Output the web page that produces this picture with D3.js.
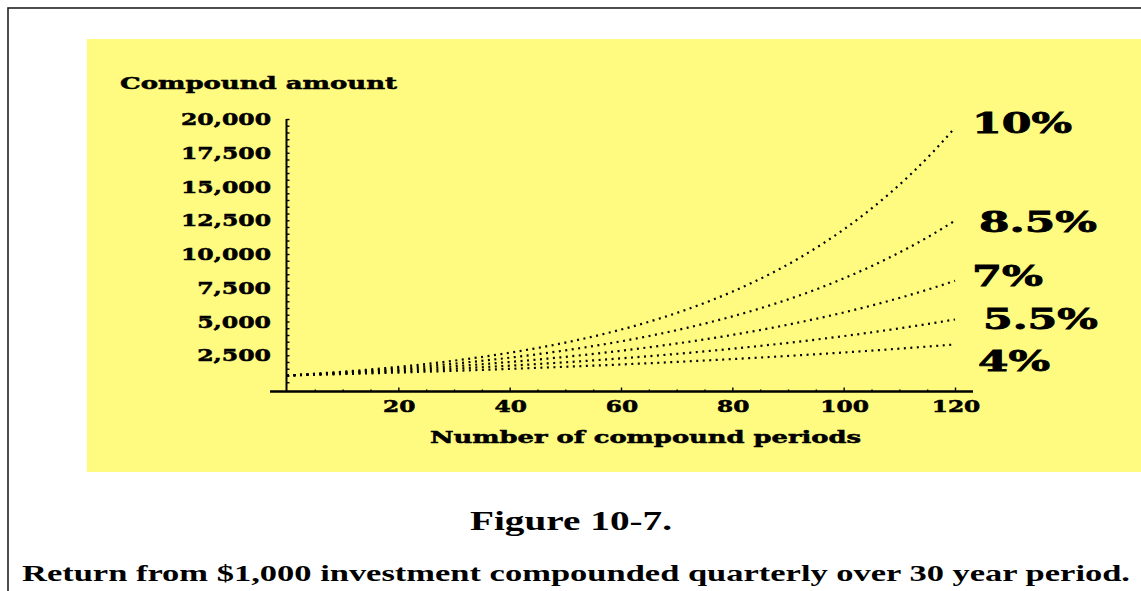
<!DOCTYPE html>
<html>
<head>
<meta charset="utf-8">
<script src="https://cdn.jsdelivr.net/npm/d3@7"></script>
<style>
  html, body { margin: 0; padding: 0; background: #ffffff; }
  svg { display: block; }
</style>
</head>
<body>
<svg id="chart" width="1141" height="591"></svg>
<script>
// Compound amount of $1,000 compounded quarterly, sampled once a year (every 4 periods)
const periods = [0, 4, 8, 12, 16, 20, 24, 28, 32, 36, 40, 44, 48, 52, 56, 60,
                 64, 68, 72, 76, 80, 84, 88, 92, 96, 100, 104, 108, 112, 116, 120];

const rate4 = [1000, 1041, 1083, 1127, 1173, 1220, 1270, 1321, 1375, 1431, 1489,
               1549, 1612, 1678, 1746, 1817, 1891, 1967, 2047, 2130, 2217,
               2307, 2400, 2498, 2599, 2705, 2815, 2929, 3048, 3172, 3300];
const rate55 = [1000, 1056, 1115, 1178, 1244, 1314, 1388, 1466, 1548, 1635, 1727,
                1824, 1926, 2034, 2148, 2269, 2397, 2531, 2673, 2823, 2982,
                3149, 3326, 3513, 3710, 3918, 4138, 4371, 4616, 4875, 5149];
const rate7 = [1000, 1072, 1149, 1231, 1320, 1415, 1516, 1625, 1742, 1867, 2002,
               2145, 2300, 2465, 2642, 2832, 3035, 3253, 3487, 3738, 4006,
               4294, 4603, 4934, 5288, 5668, 6076, 6512, 6980, 7482, 8019];
const rate85 = [1000, 1088, 1183, 1287, 1400, 1523, 1656, 1802, 1960, 2132, 2319,
                2522, 2744, 2984, 3246, 3531, 3841, 4178, 4545, 4944, 5377,
                5849, 6362, 6921, 7528, 8188, 8907, 9689, 10539, 11463, 12469];
const rate10 = [1000, 1104, 1218, 1345, 1485, 1639, 1809, 1997, 2204, 2433, 2685,
                2964, 3271, 3611, 3986, 4400, 4857, 5361, 5917, 6531, 7209,
                7958, 8784, 9696, 10702, 11814, 13040, 14394, 15888, 17537, 19358];

const seriesNames = ["10%", "8.5%", "7%", "5.5%", "4%"];
const seriesValues = [rate10, rate85, rate7, rate55, rate4];

const yTickValues = [2500, 5000, 7500, 10000, 12500, 15000, 17500, 20000];
const yTickLabels = ["2,500", "5,000", "7,500", "10,000", "12,500", "15,000", "17,500", "20,000"];
const xTickValues = [20, 40, 60, 80, 100, 120];
const xTickLabels = ["20", "40", "60", "80", "100", "120"];

const yTitle = "Compound amount";
const xTitle = "Number of compound periods";
const figTitle = "Figure 10-7.";
const figCaption = "Return from $1,000 investment compounded quarterly over 30 year period.";

// ---- layout ----
const svg = d3.select("#chart");
const boldFont = "'DejaVu Serif', serif";
const captionFont = "'Liberation Serif', 'Times New Roman', serif";

// heavy bold text helper: bold face plus a hairline outline
function heavy(sel, size, outline) {
  return sel
    .attr("font-family", boldFont)
    .attr("font-weight", "bold")
    .attr("font-size", size)
    .attr("fill", "#000")
    .attr("stroke", "#000")
    .attr("stroke-width", outline)
    .attr("lengthAdjust", "spacingAndGlyphs");
}

// outer frame
svg.append("rect")
  .attr("x", 8).attr("y", 8)
  .attr("width", 1160).attr("height", 600)
  .attr("fill", "none")
  .attr("stroke", "#222")
  .attr("stroke-width", 1.6);

// yellow plot panel
svg.append("rect")
  .attr("x", 87).attr("y", 39)
  .attr("width", 1070).attr("height", 433)
  .attr("fill", "#fffb80");

const x = d3.scaleLinear().domain([0, 120]).range([287, 955]);
const y = d3.scaleLinear().domain([0, 20000]).range([389, 119]);

// y axis: line with small ticks every 500
const yAxis = svg.append("g")
  .attr("transform", `translate(${x(0) - 0.5},0)`)
  .call(d3.axisRight(y)
    .tickValues(d3.range(500, 20001, 500))
    .tickSize(3)
    .tickSizeOuter(0)
    .tickFormat(""));
yAxis.select(".domain").remove();
yAxis.selectAll(".tick line").attr("stroke", "#000").attr("stroke-width", 1.4);
svg.append("line")
  .attr("x1", x(0) - 0.5).attr("x2", x(0) - 0.5)
  .attr("y1", y(20000)).attr("y2", 392)
  .attr("stroke", "#000").attr("stroke-width", 2);

// x axis: line with small ticks every 5 periods
const xAxis = svg.append("g")
  .attr("transform", "translate(0,391.5)")
  .call(d3.axisTop(x)
    .tickValues(d3.range(5, 121, 5))
    .tickSize(2)
    .tickSizeOuter(0)
    .tickFormat(""));
xAxis.select(".domain").remove();
xAxis.selectAll(".tick line")
  .attr("stroke", "#000")
  .attr("stroke-width", 1.4)
  .attr("y2", d => (d % 20 === 0 ? -4 : -2));
svg.append("line")
  .attr("x1", 270).attr("x2", 973)
  .attr("y1", 391.5).attr("y2", 391.5)
  .attr("stroke", "#000").attr("stroke-width", 2.6);

// tick labels (wide bold serif)
const digitW = 16.2, commaW = 9;
const labelWidth = s => Array.from(s).reduce((w, c) => w + (c === "," ? commaW : digitW), 0);

svg.append("g").selectAll("text")
  .data(yTickValues)
  .join("text")
  .call(heavy, 16.5, 0.5)
  .attr("x", 271)
  .attr("y", d => y(d) + 6)
  .attr("text-anchor", "end")
  .attr("textLength", (d, i) => labelWidth(yTickLabels[i]))
  .text((d, i) => yTickLabels[i]);

svg.append("g").selectAll("text")
  .data(xTickValues)
  .join("text")
  .call(heavy, 16.5, 0.5)
  .attr("x", d => x(d) + 1)
  .attr("y", 412)
  .attr("text-anchor", "middle")
  .attr("textLength", (d, i) => labelWidth(xTickLabels[i]))
  .text((d, i) => xTickLabels[i]);

// axis titles
svg.append("text")
  .call(heavy, 16.5, 0.5)
  .attr("x", 120).attr("y", 89)
  .attr("textLength", 277)
  .text(yTitle);

svg.append("text")
  .call(heavy, 16.5, 0.5)
  .attr("x", 430).attr("y", 443)
  .attr("textLength", 431)
  .text(xTitle);

// dotted growth curves
const line = d3.line()
  .x((d, i) => x(periods[i]))
  .y(d => y(d))
  .curve(d3.curveMonotoneX);

svg.append("g").selectAll("path")
  .data(seriesValues)
  .join("path")
  .attr("d", d => line(d))
  .attr("fill", "none")
  .attr("stroke", "#000")
  .attr("stroke-width", 2.2)
  .attr("stroke-dasharray", "2,4.5");

// rate labels at the right end of each curve
const rateLabelLayout = {
  "10%":  { dx: 17, dy: -5, w: 100 },
  "8.5%": { dx: 24, dy: 1,  w: 118 },
  "7%":   { dx: 17, dy: -5, w: 71 },
  "5.5%": { dx: 28, dy: 0,  w: 115 },
  "4%":   { dx: 23, dy: 17, w: 72 }
};
svg.append("g").selectAll("text")
  .data(seriesNames)
  .join("text")
  .call(heavy, 28, 0.8)
  .attr("x", d => x(120) + rateLabelLayout[d].dx)
  .attr("y", (d, i) => y(seriesValues[i][seriesValues[i].length - 1]) + rateLabelLayout[d].dy + 10)
  .attr("textLength", d => rateLabelLayout[d].w)
  .text(d => d);

// figure number and caption
svg.append("text")
  .attr("x", 470).attr("y", 530)
  .attr("font-family", captionFont)
  .attr("font-weight", "bold")
  .attr("font-size", 27)
  .attr("textLength", 202)
  .attr("lengthAdjust", "spacingAndGlyphs")
  .text(figTitle);

svg.append("text")
  .attr("x", 22).attr("y", 581)
  .attr("font-family", captionFont)
  .attr("font-weight", "bold")
  .attr("font-size", 23)
  .attr("textLength", 1108)
  .attr("lengthAdjust", "spacingAndGlyphs")
  .text(figCaption);
</script>
</body>
</html>
